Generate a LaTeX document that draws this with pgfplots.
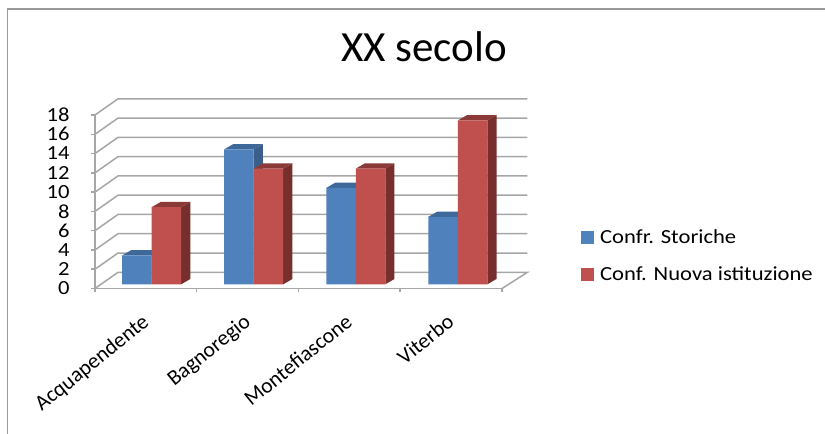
\documentclass[border=0pt]{standalone}
\usepackage{fontspec}
\setmainfont{Carlito}
\newfontfamily\widefont[FakeStretch=1.13]{Carlito}
\usepackage{pgfplots}
\pgfplotsset{compat=1.18}
\definecolor{bluefront}{HTML}{4F81BD}
\definecolor{blueside}{HTML}{3B5F8A}
\definecolor{bluetop}{HTML}{3D6899}
\definecolor{redfront}{HTML}{C0504D}
\definecolor{redside}{HTML}{772F2D}
\definecolor{redtop}{HTML}{8C3A38}
\definecolor{gridgray}{HTML}{A6A6A6}
\definecolor{framegray}{HTML}{9A9A9A}
\pgfplotsset{
    face/.style={draw=none, forget plot},
    common/.style={
        scale only axis, width=407bp, height=173.5bp,
        xmin=0, xmax=4, ymin=0, ymax=18, clip=false,
    },
}
\begin{document}
\begin{tikzpicture}
\path[use as bounding box] (0,0) rectangle (825bp,434bp);
\draw[framegray, line width=1.6bp] (7.5bp,0) -- (7.5bp,425bp) -- (825bp,425bp);
\node[font=\fontsize{43bp}{43bp}\selectfont, anchor=base] at (424bp,372bp) {XX secolo};

% walls, floor and axes
\begin{axis}[common,
    at={(95bp,145.5bp)}, anchor=south west,
    axis x line*=bottom, axis y line*=left,
    axis line style={gridgray, line width=1.5bp, -},
    tick style={gridgray, line width=1.5bp},
    major tick length=4bp, tick align=outside,
    ytick={0,2,...,18},
    xtick={0,1,2,3,4},
    xticklabels={Acquapendente,Bagnoregio,Montefiascone,Viterbo},
    x tick label as interval,
    /pgf/number format/assume math mode=true,
    unbounded coords=jump,
    yticklabel style={font=\widefont\fontsize{20bp}{20bp}\selectfont, xshift=-18bp},
    xticklabel style={font=\fontsize{21.6bp}{21.6bp}\selectfont, rotate=39, anchor=north east, xshift=-13.3bp, yshift=-8.8bp},
]
\addplot[gridgray, line width=1.5bp, forget plot] coordinates {
    (0,0)(0.226,1.68)(4.25,1.68)(4,0) (nan,nan)
    (0,2)(0.226,3.68)(4.25,3.68) (nan,nan)
    (0,4)(0.226,5.68)(4.25,5.68) (nan,nan)
    (0,6)(0.226,7.68)(4.25,7.68) (nan,nan)
    (0,8)(0.226,9.68)(4.25,9.68) (nan,nan)
    (0,10)(0.226,11.68)(4.25,11.68) (nan,nan)
    (0,12)(0.226,13.68)(4.25,13.68) (nan,nan)
    (0,14)(0.226,15.68)(4.25,15.68) (nan,nan)
    (0,16)(0.226,17.68)(4.25,17.68) (nan,nan)
    (0,18)(0.226,19.68)(4.25,19.68)
};
\end{axis}

% columns: the plane of their front faces sits a little above the axis
\begin{axis}[common,
    at={(95bp,149.7bp)}, anchor=south west,
    hide axis,
    legend style={draw=none, fill=none, at={(1.194,0.163)}, anchor=west,
        font=\widefont\fontsize{20bp}{20bp}\selectfont, row sep=18bp, inner sep=0pt},
    legend cell align=left,
    legend image code/.code={
        \fill[#1] (0bp,-6.5bp) rectangle (13bp,6.5bp);
        \path (17bp,0bp);
    },
]
% blue side and top faces
\addplot[face, fill=blueside] coordinates {(.557,0)(.647,.55)(.647,3.55)(.557,3)} --cycle;
\addplot[face, fill=bluetop] coordinates {(.267,3)(.357,3.55)(.647,3.55)(.557,3)} --cycle;
\addplot[face, fill=blueside] coordinates {(1.56,0)(1.65,.55)(1.65,14.55)(1.56,14)} --cycle;
\addplot[face, fill=bluetop] coordinates {(1.27,14)(1.36,14.55)(1.65,14.55)(1.56,14)} --cycle;
\addplot[face, fill=blueside] coordinates {(2.563,0)(2.653,.55)(2.653,10.55)(2.563,10)} --cycle;
\addplot[face, fill=bluetop] coordinates {(2.273,10)(2.363,10.55)(2.653,10.55)(2.563,10)} --cycle;
\addplot[face, fill=blueside] coordinates {(3.566,0)(3.656,.55)(3.656,7.55)(3.566,7)} --cycle;
\addplot[face, fill=bluetop] coordinates {(3.276,7)(3.366,7.55)(3.656,7.55)(3.566,7)} --cycle;
\addplot[ybar, bar width=29.5bp, bar shift=-14.75bp, fill=bluefront, draw=none]
    coordinates {(.557,3)(1.56,14)(2.563,10)(3.566,7)};
\addlegendentry{Confr. Storiche}
% red side and top faces
\addplot[face, fill=redside] coordinates {(.847,0)(.937,.55)(.937,8.55)(.847,8)} --cycle;
\addplot[face, fill=redtop] coordinates {(.557,8)(.647,8.55)(.937,8.55)(.847,8)} --cycle;
\addplot[face, fill=redside] coordinates {(1.85,0)(1.94,.55)(1.94,12.55)(1.85,12)} --cycle;
\addplot[face, fill=redtop] coordinates {(1.56,12)(1.65,12.55)(1.94,12.55)(1.85,12)} --cycle;
\addplot[face, fill=redside] coordinates {(2.853,0)(2.943,.55)(2.943,12.55)(2.853,12)} --cycle;
\addplot[face, fill=redtop] coordinates {(2.563,12)(2.653,12.55)(2.943,12.55)(2.853,12)} --cycle;
\addplot[face, fill=redside] coordinates {(3.856,0)(3.946,.55)(3.946,17.55)(3.856,17)} --cycle;
\addplot[face, fill=redtop] coordinates {(3.566,17)(3.656,17.55)(3.946,17.55)(3.856,17)} --cycle;
\addplot[ybar, bar width=29.5bp, bar shift=14.75bp, fill=redfront, draw=none]
    coordinates {(.557,8)(1.56,12)(2.563,12)(3.566,17)};
\addlegendentry{Conf. Nuova istituzione}
\end{axis}
\end{tikzpicture}
\end{document}
